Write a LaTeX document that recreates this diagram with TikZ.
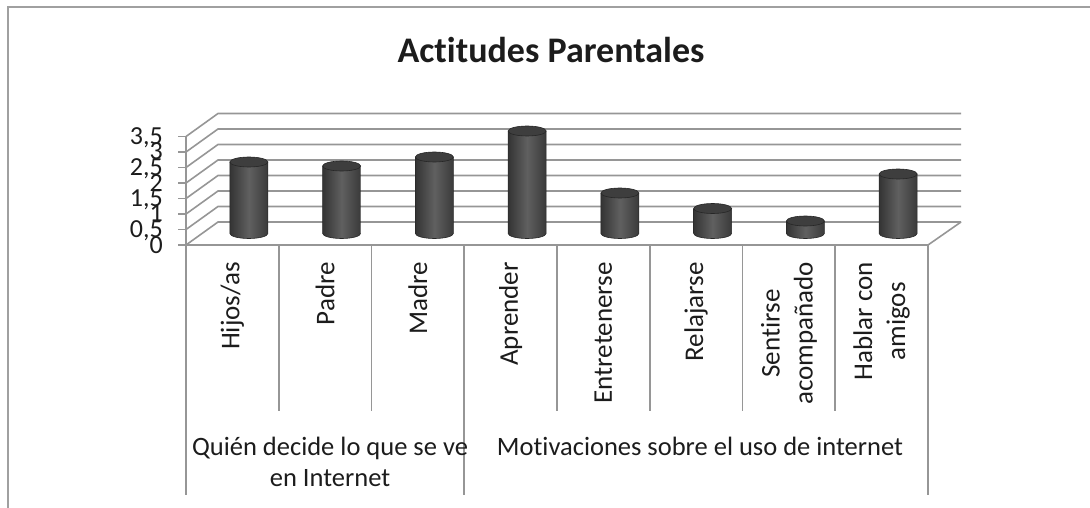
\documentclass[tikz,border=0pt]{standalone}
\usepackage{fontspec}
\setmainfont{Carlito}[Ligatures={NoCommon,NoRequired,NoContextual}]
\definecolor{gridc}{RGB}{150,150,150}
\definecolor{framec}{RGB}{160,160,160}
\definecolor{txt}{RGB}{28,28,28}
\definecolor{barL}{RGB}{52,52,52}
\definecolor{barM}{RGB}{96,96,96}
\definecolor{barR}{RGB}{58,58,58}
\definecolor{barTop}{RGB}{62,62,62}
\begin{document}
\begin{tikzpicture}[x=1pt,y=-1pt,
  grid/.style={draw=gridc, line width=1.6pt},
  frameline/.style={draw=framec, line width=1.5pt},
  charttitle/.style={font=\bfseries\fontsize{36}{40}\selectfont, text=txt, inner sep=0pt, anchor=base},
  ylab/.style={font=\fontsize{26}{30}\selectfont, text=txt, inner sep=0pt, anchor=base east},
  catlab/.style={font=\fontsize{27}{33}\selectfont, text=txt, inner sep=0pt, rotate=90, anchor=east, align=center},
  grplab/.style={font=\fontsize{26.5}{31}\selectfont, text=txt, inner sep=0pt, anchor=north, align=center},
  barbody/.style={left color=barL, right color=barR, middle color=barM},
  baredge/.style={draw=black!85, line width=0.6pt},
  bartop/.style={fill=barTop, draw=black!85, line width=0.6pt}]
\useasboundingbox (0,0) rectangle (1090,508);
% chart frame
\draw[frameline] (1090,7) -- (8,7) -- (8,508);
% title
\node[charttitle] (title) at (551,63) {Actitudes Parentales};
% walls and gridlines
\foreach \k in {0,...,7} {
  \draw[grid] (186,{245-15.5*\k}) -- (218,{222-15.5*\k}) -- (961,{222-15.5*\k});
  \draw[grid] (178,{245-15.5*\k}) -- (186,{245-15.5*\k});
}
% floor
\draw[grid] (186,245) -- (928,245) -- (961,222);
% vertical axis and category dividers
\draw[grid] (186,136) -- (186,495);
\foreach \i in {1,2,4,5,6,7} {
  \draw[grid] ({186+92.75*\i},245) -- ({186+92.75*\i},411);
}
\draw[grid] (464,245) -- (464,495);
\draw[grid] (928,245) -- (928,495);
% y labels
\foreach \k/\t in {0/0,1/{0,5},2/1,3/{1,5},4/2,5/{2,5},6/3,7/{3,5}} {
  \node[ylab] (y\k) at (163,{253-15.5*\k}) {\t};
}
% bars (cylinders)
\foreach \i/\top in {0/162,1/166,2/157,3/131,4/193,5/208.5,6/221,7/174} {
  \pgfmathsetmacro\cx{186+92.75*(\i+0.5)+16.5}
  \shade[barbody] (\cx-19,\top) -- (\cx-19,233.5) arc[start angle=180,end angle=0,x radius=19,y radius=5] -- (\cx+19,\top) -- cycle;
  \draw[baredge] (\cx-19,\top) -- (\cx-19,233.5) arc[start angle=180,end angle=0,x radius=19,y radius=5] -- (\cx+19,\top);
  \filldraw[bartop] (\cx,\top) ellipse[x radius=19, y radius=5];
}
% category labels
\node[catlab] (c1) at (232.4,262) {Hijos/as};
\node[catlab] (c2) at (325.1,262) {Padre};
\node[catlab] (c3) at (417.9,262) {Madre};
\node[catlab] (c4) at (510.6,262) {Aprender};
\node[catlab] (c5) at (603.4,262) {Entretenerse};
\node[catlab] (c6) at (696.1,262) {Relajarse};
\node[catlab] (c7) at (788.9,262) {Sentirse\\acompañado};
\node[catlab] (c8) at (881.6,262) {Hablar con\\amigos};
% group labels
\node[grplab] (g1) at (330,433.3) {\strut Quién decide lo que se ve\\en Internet};
\node[grplab] (g2) at (700,433.3) {\strut Motivaciones sobre el uso de internet};
\end{tikzpicture}
\end{document}
